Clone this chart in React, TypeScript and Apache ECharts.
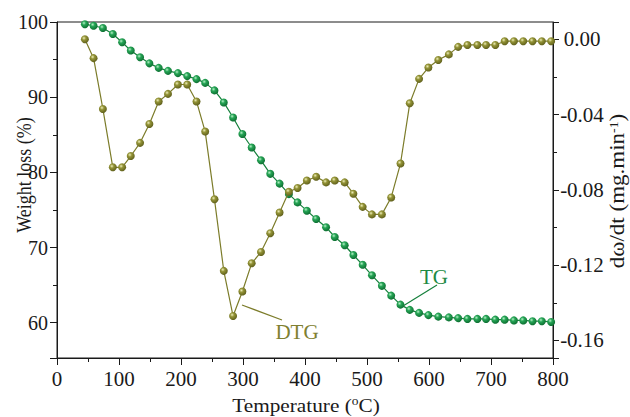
import React, { useEffect, useRef } from 'react';
import * as echarts from 'echarts';

// Temperature (°C) of each sample point
const temperature = [
  45, 59, 74, 90, 105, 119, 134, 149, 164, 179,
  195, 210, 225, 239, 254, 269, 284, 299, 314, 329,
  344, 359, 374, 388, 403, 418, 434, 448, 464, 478,
  493, 508, 524, 539, 554, 569, 584, 599, 615, 632,
  647, 662, 678, 692, 707, 722, 737, 752, 767, 782, 797,
];

// TG: weight loss (%)
const tg = [
  99.7, 99.5, 99.2, 98.4, 97.3, 96.2, 95.3, 94.5, 93.9, 93.5,
  93.2, 92.8, 92.4, 91.9, 90.9, 89.3, 87.3, 85.1, 83.3, 81.6,
  79.8, 78.5, 77.1, 76.0, 74.9, 73.8, 72.7, 71.4, 70.3, 69.0,
  67.7, 66.3, 64.9, 63.6, 62.4, 61.7, 61.3, 61.0, 60.8, 60.7,
  60.6, 60.5, 60.5, 60.5, 60.4, 60.4, 60.3, 60.3, 60.2, 60.2, 60.1,
];

// DTG: dω/dt (mg.min-1)
const dtg = [
  0.0, -0.010, -0.037, -0.068, -0.068, -0.062, -0.055, -0.045, -0.033, -0.029,
  -0.024, -0.024, -0.033, -0.049, -0.085, -0.123, -0.147, -0.134, -0.119, -0.113,
  -0.103, -0.092, -0.081, -0.079, -0.075, -0.073, -0.076, -0.075, -0.076, -0.082,
  -0.089, -0.093, -0.093, -0.084, -0.066, -0.034, -0.021, -0.015, -0.011, -0.008,
  -0.004, -0.003, -0.003, -0.003, -0.003, -0.001, -0.001, -0.001, -0.001, -0.001, -0.001,
];

const FONT = '"Liberation Serif", "Times New Roman", serif';
const INK = '#1a1a1a';
const GREEN_LINE = '#16803c';
const OLIVE_LINE = '#7c7c2a';

const greenBall = {
  type: 'radial', x: 0.38, y: 0.35, r: 0.7,
  colorStops: [
    { offset: 0, color: '#b6f0c6' },
    { offset: 0.35, color: '#26a556' },
    { offset: 1, color: '#0b6a2e' },
  ],
};
const oliveBall = {
  type: 'radial', x: 0.38, y: 0.35, r: 0.7,
  colorStops: [
    { offset: 0, color: '#eeeeb8' },
    { offset: 0.35, color: '#939336' },
    { offset: 1, color: '#5c5c1a' },
  ],
};

export default function App() {
  const ref = useRef<HTMLDivElement>(null);

  useEffect(() => {
    if (!ref.current) return;
    const chart = echarts.init(ref.current, undefined, { renderer: 'svg' });

    const axisLineStyle = { color: INK, width: 1 };

    chart.setOption({
      animation: false,
      backgroundColor: '#ffffff',
      grid: {
        left: 57, right: 77, top: 22, bottom: 59,
        show: true, borderColor: INK, borderWidth: 1, backgroundColor: 'transparent',
      },
      xAxis: {
        type: 'value', min: 0, max: 800, interval: 100,
        axisLine: { show: true, onZero: false, lineStyle: axisLineStyle },
        axisTick: { show: true, inside: false, length: 7, lineStyle: axisLineStyle },
        minorTick: { show: true, splitNumber: 2, length: 4, lineStyle: axisLineStyle },
        splitLine: { show: false },
        minorSplitLine: { show: false },
        axisLabel: { fontFamily: FONT, fontSize: 21, color: INK, margin: 10 },
      },
      yAxis: [
        {
          type: 'value', position: 'left', min: 55.3, max: 100,
          minInterval: 10, maxInterval: 10, splitNumber: 5,
          axisLine: { show: true, onZero: false, lineStyle: axisLineStyle },
          axisTick: { show: true, inside: false, length: 7, lineStyle: axisLineStyle },
          minorTick: { show: true, splitNumber: 2, length: 4, lineStyle: axisLineStyle },
          splitLine: { show: false },
          axisLabel: {
            fontFamily: FONT, fontSize: 20, color: INK, margin: 9,
            showMinLabel: false, showMaxLabel: true,
            formatter: (v: number) => (Math.abs(v % 10) < 1e-6 ? String(Math.round(v)) : ''),
          },
        },
        {
          type: 'value', position: 'right', min: -0.1693, max: 0.0092,
          minInterval: 0.04, maxInterval: 0.04, splitNumber: 5,
          axisLine: { show: true, onZero: false, lineStyle: axisLineStyle },
          axisTick: { show: true, inside: false, length: 6, lineStyle: axisLineStyle },
          minorTick: { show: true, splitNumber: 2, length: 4, lineStyle: axisLineStyle },
          splitLine: { show: false },
          axisLabel: {
            fontFamily: FONT, fontSize: 21, color: INK, margin: 29, align: 'center',
            showMinLabel: false, showMaxLabel: false,
            formatter: (v: number) => {
              const k = Math.round(v / 0.04);
              if (Math.abs(v - k * 0.04) > 1e-6) return '';
              return Math.abs(v) < 1e-9 ? '0.00' : v.toFixed(2);
            },
          },
        },
      ],
      series: [
        {
          name: 'TG', type: 'line', yAxisIndex: 0,
          data: temperature.map((t, i) => [t, tg[i]]),
          symbol: 'circle', symbolSize: 8, showSymbol: true,
          lineStyle: { color: GREEN_LINE, width: 1.2 },
          itemStyle: { color: greenBall as any, borderWidth: 0 },
          z: 2,
        },
        {
          name: 'DTG', type: 'line', yAxisIndex: 1,
          data: temperature.map((t, i) => [t, dtg[i]]),
          symbol: 'circle', symbolSize: 8, showSymbol: true,
          lineStyle: { color: OLIVE_LINE, width: 1.2 },
          itemStyle: { color: oliveBall as any, borderWidth: 0 },
          z: 3,
        },
      ],
      graphic: [
        {
          type: 'text', x: 306, y: 405, z: 10, scaleX: 1.12,
          style: {
            text: '{a|Temperature (}{s|o}{a|C)}',
            align: 'center', verticalAlign: 'middle', fill: INK,
            rich: {
              a: { fontFamily: FONT, fontSize: 19, fill: INK },
              s: { fontFamily: FONT, fontSize: 12, fill: INK, verticalAlign: 'top' },
            },
          },
        },
        {
          type: 'text', x: 23, y: 175, rotation: Math.PI / 2, scaleY: 1.2, z: 10,
          style: {
            text: 'Weight loss (%)', fontFamily: FONT, fontSize: 18,
            align: 'center', verticalAlign: 'middle', fill: INK,
          },
        },
        {
          type: 'text', x: 618, y: 191, rotation: Math.PI / 2, scaleX: 1.15, z: 10,
          style: {
            text: '{a|dω/dt (mg.min}{s|-1}{a|)}',
            align: 'center', verticalAlign: 'middle', fill: INK,
            rich: {
              a: { fontFamily: FONT, fontSize: 20, fill: INK },
              s: { fontFamily: FONT, fontSize: 12, fill: INK, verticalAlign: 'top' },
            },
          },
        },
        {
          type: 'line', z: 10,
          shape: { x1: 242, y1: 305, x2: 282, y2: 320 },
          style: { stroke: OLIVE_LINE, lineWidth: 1.2 },
        },
        {
          type: 'text', x: 297, y: 332, z: 10,
          style: {
            text: 'DTG', fontFamily: FONT, fontSize: 21, fill: '#808030',
            align: 'center', verticalAlign: 'middle',
          },
        },
        {
          type: 'line', z: 10,
          shape: { x1: 403, y1: 306, x2: 437, y2: 285 },
          style: { stroke: GREEN_LINE, lineWidth: 1.2 },
        },
        {
          type: 'text', x: 434, y: 277, z: 10,
          style: {
            text: 'TG', fontFamily: FONT, fontSize: 21, fill: '#1e8a44',
            align: 'center', verticalAlign: 'middle',
          },
        },
      ],
    });

    return () => chart.dispose();
  }, []);

  return (
    <div
      ref={ref}
      style={{ position: 'fixed', left: 0, top: 0, width: 630, height: 417, background: '#fff' }}
    />
  );
}
